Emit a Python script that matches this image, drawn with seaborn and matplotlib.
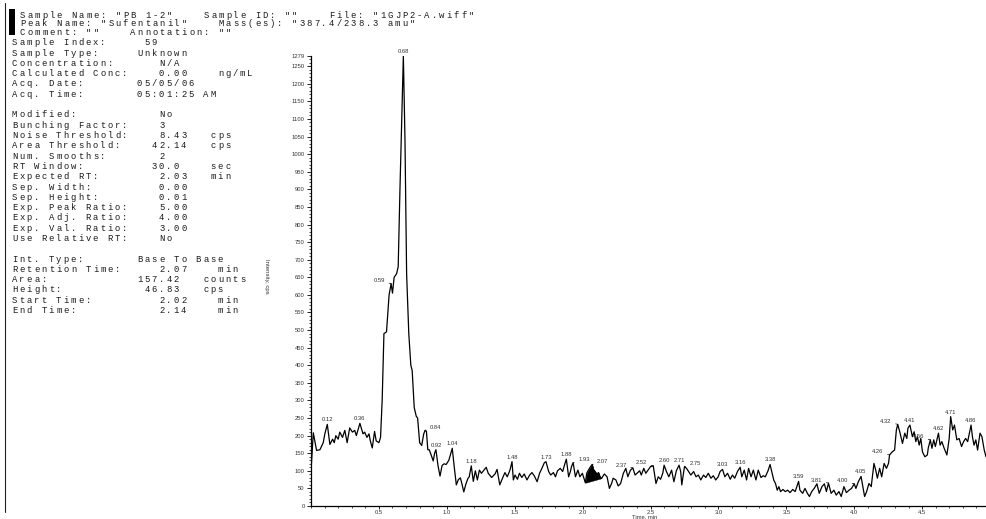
import numpy as np
import pandas as pd
import matplotlib
matplotlib.use("Agg")
import matplotlib.pyplot as plt
from matplotlib.patches import Rectangle
from matplotlib.lines import Line2D
from matplotlib.ticker import MultipleLocator, FixedLocator
import seaborn as sns

# ---------------------------------------------------------------- data
time_min = [
    0.000, 0.017, 0.041, 0.066, 0.090, 0.102, 0.120, 0.139, 0.159, 0.171,
    0.183, 0.200, 0.212, 0.232, 0.249, 0.266, 0.285, 0.305, 0.322, 0.334,
    0.360, 0.383, 0.395, 0.412, 0.427, 0.437, 0.451, 0.468, 0.480, 0.500,
    0.512, 0.524, 0.537, 0.556, 0.575, 0.590, 0.600, 0.612, 0.630, 0.642,
    0.655, 0.680, 0.692, 0.704, 0.720, 0.735, 0.745, 0.760, 0.775, 0.785,
    0.800, 0.815, 0.830, 0.840, 0.850, 0.860, 0.870, 0.880, 0.900, 0.910,
    0.920, 0.935, 0.950, 0.965, 0.980, 0.995, 1.015, 1.040, 1.055, 1.070,
    1.085, 1.100, 1.110, 1.125, 1.140, 1.155, 1.165, 1.180, 1.195, 1.210,
    1.225, 1.240, 1.255, 1.290, 1.305, 1.330, 1.355, 1.370, 1.390, 1.410,
    1.428, 1.445, 1.465, 1.480, 1.490, 1.502, 1.520, 1.535, 1.552, 1.570,
    1.590, 1.610, 1.627, 1.645, 1.665, 1.683, 1.700, 1.718, 1.730, 1.750,
    1.765, 1.785, 1.800, 1.815, 1.835, 1.853, 1.870, 1.880, 1.897, 1.910,
    1.918, 1.930, 1.947, 1.965, 1.980, 1.998, 2.020, 2.030, 2.050, 2.070,
    2.080, 2.092, 2.105, 2.117, 2.130, 2.140, 2.160, 2.180, 2.197, 2.213,
    2.225, 2.245, 2.262, 2.280, 2.300, 2.318, 2.333, 2.352, 2.370, 2.386,
    2.400, 2.420, 2.432, 2.450, 2.465, 2.482, 2.500, 2.520, 2.540, 2.557,
    2.574, 2.590, 2.600, 2.617, 2.635, 2.655, 2.672, 2.690, 2.710, 2.722,
    2.730, 2.750, 2.765, 2.785, 2.797, 2.817, 2.835, 2.852, 2.870, 2.890,
    2.907, 2.925, 2.945, 2.962, 2.980, 2.998, 3.012, 3.030, 3.047, 3.067,
    3.087, 3.103, 3.120, 3.140, 3.160, 3.172, 3.190, 3.207, 3.222, 3.240,
    3.257, 3.276, 3.293, 3.313, 3.330, 3.345, 3.365, 3.380, 3.395, 3.407,
    3.420, 3.433, 3.445, 3.457, 3.475, 3.492, 3.510, 3.527, 3.547, 3.565,
    3.590, 3.600, 3.620, 3.637, 3.655, 3.670, 3.687, 3.705, 3.725, 3.742,
    3.762, 3.780, 3.795, 3.810, 3.830, 3.850, 3.867, 3.887, 3.904, 3.924,
    3.942, 3.962, 3.980, 4.000, 4.012, 4.030, 4.050, 4.063, 4.076, 4.091,
    4.108, 4.125, 4.145, 4.158, 4.170, 4.187, 4.202, 4.220, 4.237, 4.252,
    4.260, 4.280, 4.297, 4.310, 4.320, 4.335, 4.355, 4.372, 4.387, 4.395,
    4.410, 4.428, 4.441, 4.453, 4.465, 4.478, 4.490, 4.502, 4.520, 4.538,
    4.545, 4.560, 4.572, 4.585, 4.597, 4.620, 4.632, 4.645, 4.662, 4.682,
    4.699, 4.710, 4.725, 4.738, 4.755, 4.772, 4.790, 4.805, 4.820, 4.835,
    4.860, 4.870, 4.882, 4.895, 4.908, 4.926, 4.940, 4.957, 4.970,
]

intensity_cps = [
    100, 208, 158, 160, 180, 205, 232, 175, 190, 180,
    200, 190, 210, 195, 215, 180, 222, 210, 215, 200,
    235, 205, 210, 195, 205, 185, 165, 212, 185, 180,
    195, 300, 490, 495, 600, 632, 605, 650, 660, 680,
    900, 1279, 1040, 660, 490, 400, 385, 280, 255, 250,
    180, 172, 205, 215, 212, 160, 160, 150, 128, 150,
    160, 115, 85, 115, 120, 118, 130, 164, 110, 60,
    75, 80, 65, 40, 62, 78, 83, 114, 70, 100,
    74, 102, 93, 110, 93, 81, 91, 104, 60, 79,
    95, 83, 102, 126, 74, 88, 76, 93, 81, 91,
    74, 88, 95, 85, 69, 93, 107, 123, 126, 98,
    88, 95, 83, 100, 107, 98, 121, 133, 83, 98,
    112, 123, 83, 102, 83, 93, 66, 93, 107, 118,
    104, 98, 91, 95, 81, 79, 91, 83, 50, 64,
    79, 74, 57, 64, 93, 107, 83, 102, 108, 88,
    93, 100, 88, 107, 93, 102, 112, 114, 64, 83,
    76, 93, 116, 98, 83, 102, 69, 100, 116, 98,
    60, 112, 107, 95, 88, 98, 83, 88, 74, 88,
    81, 93, 79, 86, 74, 83, 98, 104, 83, 93,
    76, 88, 79, 98, 110, 83, 102, 74, 107, 83,
    102, 74, 102, 81, 86, 83, 100, 118, 93, 74,
    64, 45, 55, 41, 47, 41, 45, 38, 47, 41,
    70, 45, 36, 50, 36, 27, 41, 50, 63, 36,
    55, 63, 41, 65, 36, 45, 31, 41, 27, 55,
    38, 45, 50, 63, 50, 69, 84, 55, 27, 41,
    64, 55, 121, 102, 79, 107, 83, 121, 107, 121,
    145, 154, 159, 216, 232, 211, 178, 207, 192, 221,
    230, 197, 211, 183, 197, 173, 192, 154, 140, 145,
    165, 188, 164, 188, 169, 207, 173, 183, 164, 145,
    192, 254, 216, 230, 188, 192, 169, 183, 192, 183,
    230, 197, 173, 188, 159, 207, 197, 159, 140,
]

# apex retention times that get a label, and where the label sits
peak_rt = [0.12, 0.36, 0.59, 0.68, 0.84, 0.92, 1.04, 1.18, 1.48, 1.73,
           1.88, 1.93, 2.07, 2.37, 2.52, 2.60, 2.71, 2.75, 3.03, 3.16,
           3.38, 3.59, 3.81, 4.00, 4.05, 4.26, 4.32, 4.41, 4.56, 4.62,
           4.71, 4.86]
peak_label_side = ["top", "top", "left", "top", "right", "top", "top", "top", "top", "top",
                   "top", "right", "right", "left", "left", "top", "top", "right", "top", "top",
                   "top", "top", "left", "left", "top", "left", "left", "top", "left", "top",
                   "top", "top"]

# integrated peak (base to base)
integration_start = 2.02
integration_end = 2.14

y_ticks = [0, 50, 100, 150, 200, 250, 300, 350, 400, 450, 500, 550, 600, 650,
           700, 750, 800, 850, 900, 950, 1000, 1050, 1100, 1150, 1200, 1250, 1279]
x_ticks = [0.5, 1.0, 1.5, 2.0, 2.5, 3.0, 3.5, 4.0, 4.5]

header_rows = [
    ['Sample Name: "PB 1-2"', 'Sample ID: ""', 'File: "1GJP2-A.wiff"'],
    ['Peak Name: "Sufentanil"', 'Mass(es): "387.4/238.3 amu"'],
    ['Comment: ""', 'Annotation: ""'],
]
sample_rows = [
    ("Sample Index:", "59", ""),
    ("Sample Type:", "Unknown", ""),
    ("Concentration:", "N/A", ""),
    ("Calculated Conc:", "0.00", "ng/mL"),
    ("Acq. Date:", "05/05/06", ""),
    ("Acq. Time:", "05:01:25 AM", ""),
]
method_rows = [
    ("Modified:", "No", ""),
    ("Bunching Factor:", "3", ""),
    ("Noise Threshold:", "8.43", "cps"),
    ("Area Threshold:", "42.14", "cps"),
    ("Num. Smooths:", "2", ""),
    ("RT Window:", "30.0", "sec"),
    ("Expected RT:", "2.03", "min"),
    ("Sep. Width:", "0.00", ""),
    ("Sep. Height:", "0.01", ""),
    ("Exp. Peak Ratio:", "5.00", ""),
    ("Exp. Adj. Ratio:", "4.00", ""),
    ("Exp. Val. Ratio:", "3.00", ""),
    ("Use Relative RT:", "No", ""),
]
result_rows = [
    ("Int. Type:", "Base To Base", ""),
    ("Retention Time:", "2.07", "min"),
    ("Area:", "157.42", "counts"),
    ("Height:", "46.83", "cps"),
    ("Start Time:", "2.02", "min"),
    ("End Time:", "2.14", "min"),
]

# ---------------------------------------------------------------- layout
W, H = 986, 519
sns.set_theme(style="ticks")
plt.rcParams["font.family"] = ["Liberation Sans", "DejaVu Sans"]

fig = plt.figure(figsize=(W / 100, H / 100), dpi=100)
fig.patch.set_facecolor("white")


def fx(px):
    return px / W


def fy(py):
    return 1 - py / H


# report text: a letter-spaced monospace, one glyph per fixed-width cell
PITCH = 7.35
MONO = dict(family="Liberation Mono", size=6.4, color="#1a1a1a", va="baseline", ha="center")


def draw_spaced(x0, y_center, s):
    for i, ch in enumerate(s):
        if ch != " ":
            fig.text(fx(x0 + (i + 0.5) * PITCH), fy(y_center + 3), ch, **MONO)


header_cols = [[0, 25, 42], [0, 27], [0, 15]]
header_y = [15, 23.5, 32]
for parts, cols, yc in zip(header_rows, header_cols, header_y):
    line = ""
    for p, c in zip(parts, cols):
        line = line.ljust(c) + p
    draw_spaced(19, yc, line)

value_cols = {
    "Sample Index:": 18, "Sample Type:": 17, "Concentration:": 20, "Calculated Conc:": 20,
    "Acq. Date:": 17, "Acq. Time:": 17, "Area Threshold:": 19, "RT Window:": 19,
    "Int. Type:": 17, "Area:": 17, "Height:": 18,
}
unit_cols = {"Calculated Conc:": 28, "Noise Threshold:": 27, "Area Threshold:": 27,
             "RT Window:": 27, "Expected RT:": 27, "Area:": 26, "Height:": 26}


def row_text(label, value, unit):
    s = label.ljust(value_cols.get(label, 20)) + value
    if unit:
        s = s.ljust(unit_cols.get(label, 28)) + unit
    return s


row_pitch = 10.3
row = 0
for block in (sample_rows, method_rows, result_rows):
    for label, value, unit in block:
        draw_spaced(11, 42.3 + row * row_pitch, row_text(label, value, unit))
        row += 1
    row += 1

fig.add_artist(Rectangle((fx(9), fy(35)), 6 / W, 26 / H, transform=fig.transFigure,
                         color="black", lw=0))
fig.add_artist(Line2D([fx(4.5), fx(4.5)], [fy(3), fy(512)], transform=fig.transFigure,
                      color="#222222", lw=0.8))

# chromatogram
ax = fig.add_axes([fx(311), fy(506), (W - 311) / W, (506 - 56) / H])
ax.set_facecolor("white")
df = pd.DataFrame({"Time, min": time_min, "Intensity, cps": intensity_cps})
sns.lineplot(data=df, x="Time, min", y="Intensity, cps", ax=ax, color="black",
             linewidth=0.9, estimator=None, sort=False)

t = np.asarray(time_min, dtype=float)
v = np.asarray(intensity_cps, dtype=float)
sel = (t >= integration_start - 1e-9) & (t <= integration_end + 1e-9)
v0 = np.interp(integration_start, t, v)
v1 = np.interp(integration_end, t, v)
base = np.interp(t[sel], [integration_start, integration_end], [v0, v1])
ax.fill_between(t[sel], base, v[sel], color="black", lw=0.3)

ax.set_xlim(0, 4.97)
ax.set_ylim(0, 1279)
ax.yaxis.set_major_locator(FixedLocator(y_ticks))
ax.yaxis.set_minor_locator(MultipleLocator(10))
ax.xaxis.set_major_locator(FixedLocator(x_ticks))
ax.xaxis.set_minor_locator(MultipleLocator(0.1))
ax.set_xticklabels([f"{x:.1f}" for x in x_ticks])
ax.set_yticklabels([str(y) for y in y_ticks])
ax.tick_params(which="major", direction="out", length=3, width=0.6, color="black",
               labelsize=4.2, labelcolor="#333333", pad=1.5)
ax.tick_params(axis="x", which="major", length=2.5, pad=0.4)
ax.tick_params(which="minor", direction="out", length=1.6, width=0.5, color="black")
for side in ("top", "right"):
    ax.spines[side].set_visible(False)
for side in ("left", "bottom"):
    ax.spines[side].set_color("black")
    ax.spines[side].set_linewidth(0.9)

ax.set_xlabel("Time, min", fontsize=4.2, color="#333333", va="center")
ax.xaxis.set_label_coords((645 - 311) / (W - 311), -10.8 / 450)
ax.set_ylabel("Intensity, cps", fontsize=4.3, color="#333333", rotation=270, va="center")
ax.yaxis.set_label_coords((267 - 311) / (W - 311), (506 - 276) / 450)

LBL = dict(fontsize=4.2, color="#333333", textcoords="offset pixels", annotation_clip=False)
for rt, side in zip(peak_rt, peak_label_side):
    val = np.interp(rt, t, v)
    txt = f"{rt:.2f}"
    if side == "top":
        ax.annotate(txt, xy=(rt, val), xytext=(0, 2), ha="center", va="bottom", **LBL)
    elif side == "left":
        ax.annotate(txt, xy=(rt, val), xytext=(-6, 3), ha="right", va="center",
                    arrowprops=dict(arrowstyle="-", lw=0.5, color="black",
                                    shrinkA=0.5, shrinkB=0), **LBL)
    else:
        ax.annotate(txt, xy=(rt, val), xytext=(5, 3), ha="left", va="center",
                    arrowprops=dict(arrowstyle="-", lw=0.5, color="black",
                                    shrinkA=0.5, shrinkB=0), **LBL)

fig.savefig("out.png", dpi=100, facecolor="white")
